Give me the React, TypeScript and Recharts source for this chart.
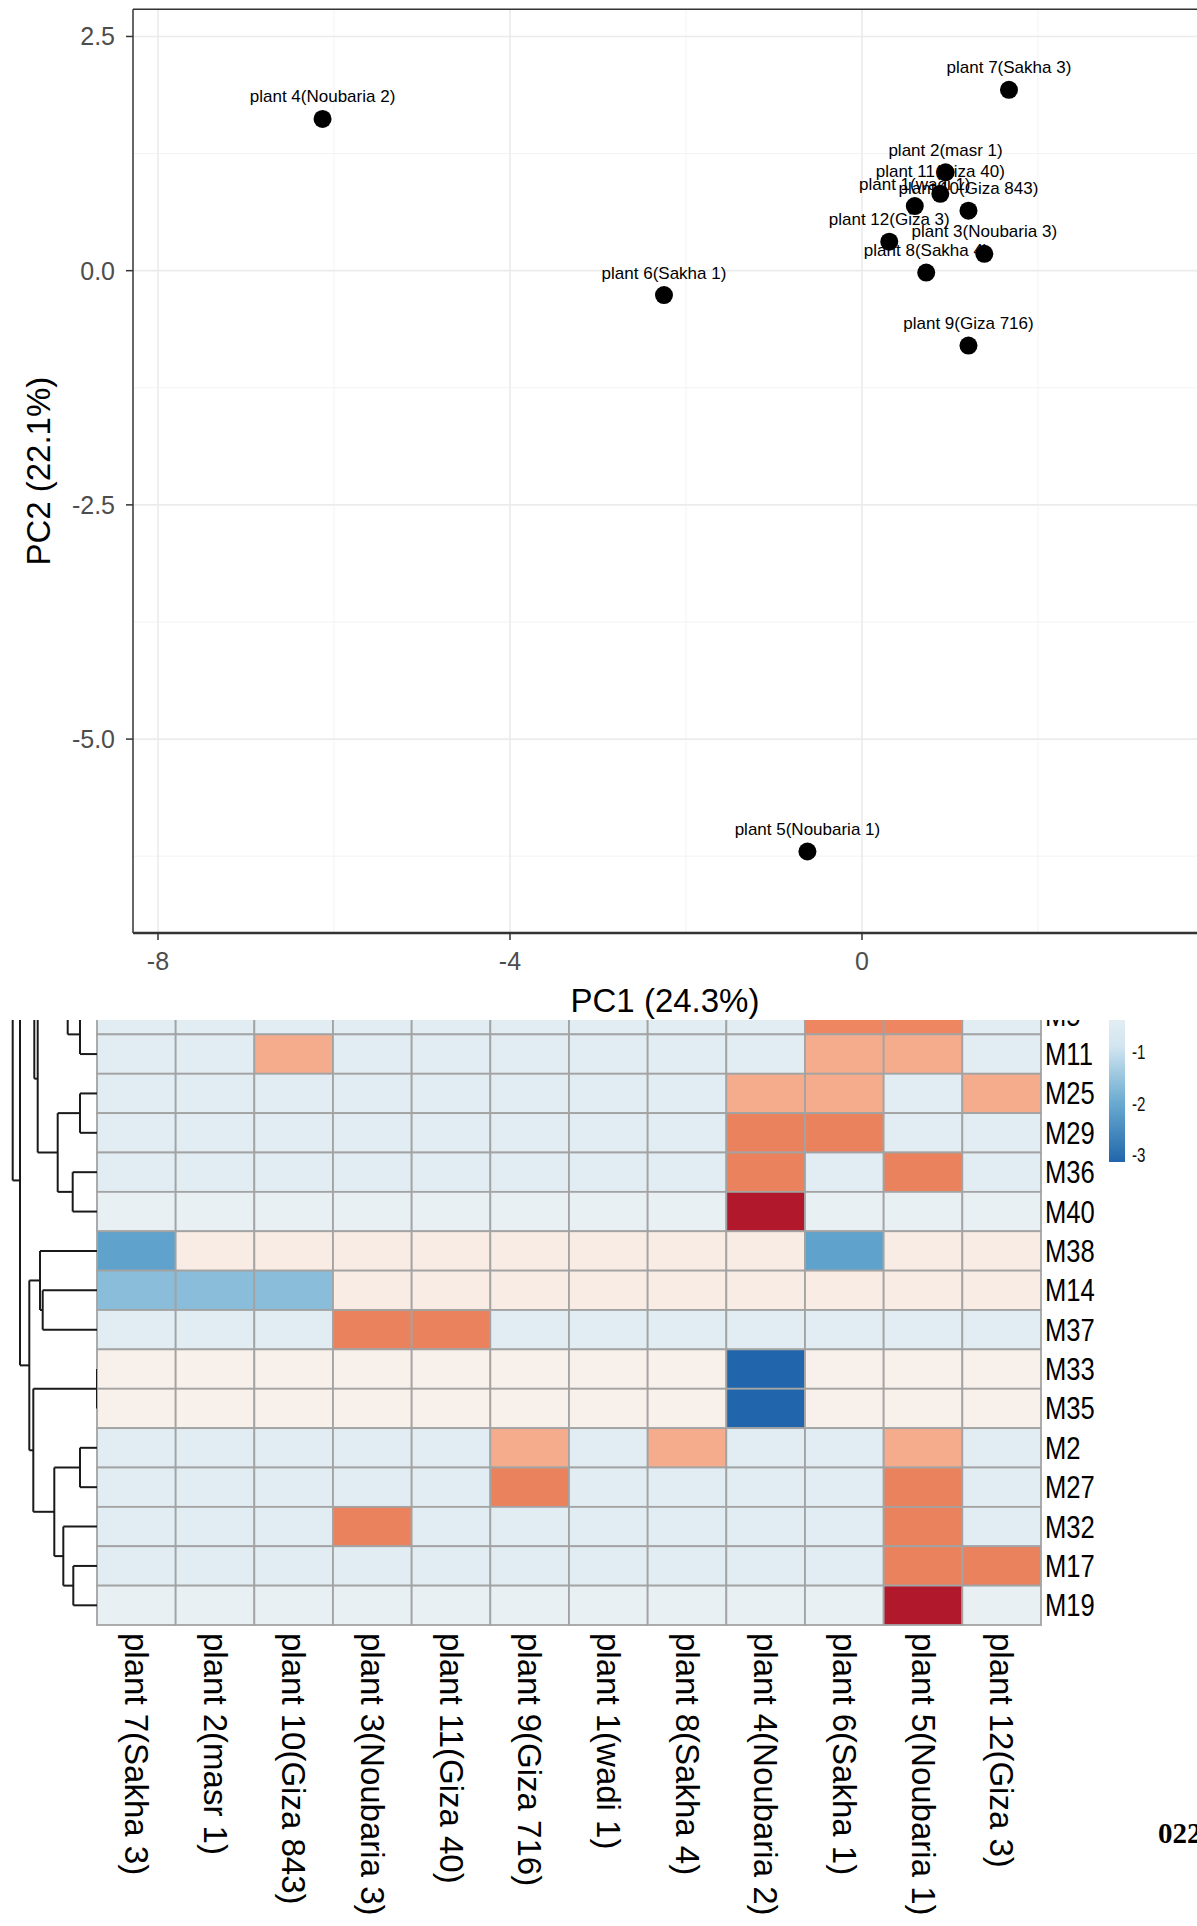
import React from "react";
import {
  ScatterChart,
  Scatter,
  XAxis,
  YAxis,
  CartesianGrid,
  ReferenceLine,
  BarChart,
  Bar,
} from "recharts";

// ---------------- PCA data ----------------
const plantNames = [
  "plant 1(wadi 1)",
  "plant 2(masr 1)",
  "plant 3(Noubaria 3)",
  "plant 4(Noubaria 2)",
  "plant 5(Noubaria 1)",
  "plant 6(Sakha 1)",
  "plant 7(Sakha 3)",
  "plant 8(Sakha 4)",
  "plant 9(Giza 716)",
  "plant 10(Giza 843)",
  "plant 11(Giza 40)",
  "plant 12(Giza 3)",
];
const pc1Values = [0.6, 0.95, 1.39, -6.13, -0.62, -2.25, 1.67, 0.73, 1.21, 1.21, 0.89, 0.31];
const pc2Values = [0.69, 1.05, 0.18, 1.62, -6.2, -0.26, 1.93, -0.02, -0.8, 0.64, 0.82, 0.31];

const pcaXDomain = [-8.284, 3.807];
const pcaYDomain = [-7.07, 2.79];
const pcaXTicks = [-8, -4, 0];
const pcaYTicks = [-5, -2.5, 0, 2.5];
const pcaXMinor = [-6, -2, 2];
const pcaYMinor = [-6.25, -3.75, -1.25, 1.25];
const pcaXTitle = "PC1 (24.3%)";
const pcaYTitle = "PC2 (22.1%)";

// ---------------- Heatmap data ----------------
const heatRows = ["M5", "M11", "M25", "M29", "M36", "M40", "M38", "M14", "M37", "M33", "M35", "M2", "M27", "M32", "M17", "M19"];
const heatCols = [
  "plant 7(Sakha 3)",
  "plant 2(masr 1)",
  "plant 10(Giza 843)",
  "plant 3(Noubaria 3)",
  "plant 11(Giza 40)",
  "plant 9(Giza 716)",
  "plant 1(wadi 1)",
  "plant 8(Sakha 4)",
  "plant 4(Noubaria 2)",
  "plant 6(Sakha 1)",
  "plant 5(Noubaria 1)",
  "plant 12(Giza 3)",
];
const heatValues = [
  [-0.42, -0.42, -0.42, -0.42, -0.42, -0.42, -0.42, -0.42, -0.42, 2.5, 2.5, -0.42],
  [-0.42, -0.42, 2.0, -0.42, -0.42, -0.42, -0.42, -0.42, -0.42, 2.0, 2.0, -0.42],
  [-0.42, -0.42, -0.42, -0.42, -0.42, -0.42, -0.42, -0.42, 2.0, 2.0, -0.42, 2.0],
  [-0.42, -0.42, -0.42, -0.42, -0.42, -0.42, -0.42, -0.42, 2.55, 2.55, -0.42, -0.42],
  [-0.42, -0.42, -0.42, -0.42, -0.42, -0.42, -0.42, -0.42, 2.55, -0.42, 2.55, -0.42],
  [-0.22, -0.22, -0.22, -0.22, -0.22, -0.22, -0.22, -0.22, 3.6, -0.22, -0.22, -0.22],
  [-2.15, 0.65, 0.65, 0.65, 0.65, 0.65, 0.65, 0.65, 0.65, -2.15, 0.65, 0.65],
  [-1.65, -1.65, -1.65, 0.65, 0.65, 0.65, 0.65, 0.65, 0.65, 0.65, 0.65, 0.65],
  [-0.42, -0.42, -0.42, 2.55, 2.55, -0.42, -0.42, -0.42, -0.42, -0.42, -0.42, -0.42],
  [0.5, 0.5, 0.5, 0.5, 0.5, 0.5, 0.5, 0.5, -3.15, 0.5, 0.5, 0.5],
  [0.5, 0.5, 0.5, 0.5, 0.5, 0.5, 0.5, 0.5, -3.15, 0.5, 0.5, 0.5],
  [-0.42, -0.42, -0.42, -0.42, -0.42, 2.0, -0.42, 2.0, -0.42, -0.42, 2.0, -0.42],
  [-0.42, -0.42, -0.42, -0.42, -0.42, 2.55, -0.42, -0.42, -0.42, -0.42, 2.55, -0.42],
  [-0.42, -0.42, -0.42, 2.55, -0.42, -0.42, -0.42, -0.42, -0.42, -0.42, 2.55, -0.42],
  [-0.42, -0.42, -0.42, -0.42, -0.42, -0.42, -0.42, -0.42, -0.42, -0.42, 2.55, 2.55],
  [-0.22, -0.22, -0.22, -0.22, -0.22, -0.22, -0.22, -0.22, -0.22, -0.22, 3.6, -0.22],
];
const heatMin = -3.15;
const heatMax = 3.6;
const legendTicks = [-3, -2, -1, 0, 1, 2, 3];
const rdBuPalette = ["#2166ac", "#67a9cf", "#d1e5f0", "#f7f7f7", "#fddbc7", "#ef8a62", "#b2182b"];

// Row dendrogram: merge heights; "off" = branch continuing above the visible rows
const dendroTree: any = {
  h: 84.3,
  a: { off: -6 },
  b: {
    h: 77,
    a: {
      h: 62.7,
      a: { off: -2.1 },
      b: {
        h: 59.3,
        a: { h: 29.3, a: { off: -0.5 }, b: { h: 17, a: "M5", b: "M11" } },
        b: { h: 39.3, a: { h: 17, a: "M25", b: "M29" }, b: { h: 24.3, a: "M36", b: "M40" } },
      },
    },
    b: {
      h: 67.7,
      a: { h: 57, a: "M38", b: { h: 54.3, a: "M14", b: "M37" } },
      b: {
        h: 63.7,
        a: { h: 0, a: "M33", b: "M35" },
        b: {
          h: 42.7,
          a: { h: 17, a: "M2", b: "M27" },
          b: { h: 33.7, a: "M32", b: { h: 23.7, a: "M17", b: "M19" } },
        },
      },
    },
  },
};

const bottomNote = "022";

// ---------------- helpers ----------------
function hexToRgb(h: string) {
  return [parseInt(h.slice(1, 3), 16), parseInt(h.slice(3, 5), 16), parseInt(h.slice(5, 7), 16)];
}
function heatColor(v: number) {
  const n = rdBuPalette.length - 1;
  let t = ((v - heatMin) / (heatMax - heatMin)) * n;
  t = Math.max(0, Math.min(n, t));
  const i = Math.min(n - 1, Math.floor(t));
  const f = t - i;
  const a = hexToRgb(rdBuPalette[i]);
  const b = hexToRgb(rdBuPalette[i + 1]);
  const c = a.map((x, k) => Math.round(x + (b[k] - x) * f));
  return `rgb(${c[0]},${c[1]},${c[2]})`;
}

const pcaData = plantNames.map((name, i) => ({ name, x: pc1Values[i], y: pc2Values[i] }));

const heatCells: any[] = [];
heatValues.forEach((row, ri) =>
  row.forEach((v, ci) => heatCells.push({ c: ci + 0.5, r: ri + 0.5, v, row: heatRows[ri], col: heatCols[ci] }))
);
const colTicks = heatCols.map((_, i) => i + 0.5);
const rowTicks = heatRows.map((_, i) => i + 0.5);

type Seg = { x1: number; y1: number; x2: number; y2: number };
const dendroSegs: Seg[] = [];
function layoutNode(node: any): { y: number; h: number } {
  if (typeof node === "string") return { y: heatRows.indexOf(node) + 0.5, h: 0 };
  if (node.off !== undefined) return { y: node.off, h: 0 };
  const A = layoutNode(node.a);
  const B = layoutNode(node.b);
  dendroSegs.push({ x1: node.h, y1: A.y, x2: node.h, y2: B.y });
  dendroSegs.push({ x1: A.h, y1: A.y, x2: node.h, y2: A.y });
  dendroSegs.push({ x1: B.h, y1: B.y, x2: node.h, y2: B.y });
  return { y: (A.y + B.y) / 2, h: node.h };
}
layoutNode(dendroTree);
const leafPoints = heatRows.map((name, i) => ({ h: 0, y: i + 0.5, name }));

const legendData = [{ k: "scale", range: [heatMin, heatMax] }];

// ---------------- geometry ----------------
const W = 1197;
const PCA_H = 1020;
const HEAT_TOP = 995;
const HEAT_LEFT = 97;
const HEAT_RIGHT = 1041;
const HEAT_BOTTOM = 1625;
const cellW = (HEAT_RIGHT - HEAT_LEFT) / heatCols.length;
const cellH = (HEAT_BOTTOM - HEAT_TOP) / heatRows.length;

const LabelShape = (p: any) => (
  <text x={p.cx} y={p.cy - 22} textAnchor="middle" dominantBaseline="central" fontSize={17} fill="#000">
    {p.payload.name}
  </text>
);
const DotShape = (p: any) => <circle cx={p.cx} cy={p.cy} r={9} fill="#000" />;

const CellShape = (p: any) => (
  <rect
    x={p.cx - cellW / 2}
    y={p.cy - cellH / 2}
    width={cellW}
    height={cellH}
    fill={heatColor(p.payload.v)}
    stroke="#a3a3a3"
    strokeWidth={1.8}
  />
);

const RowTick = (p: any) => {
  const idx = Math.floor(p.payload.value);
  return (
    <text
      transform={`translate(${p.x},${p.y}) scale(0.8,1)`}
      textAnchor="start"
      dominantBaseline="central"
      fontSize={32}
      fill="#000"
    >
      {heatRows[idx]}
    </text>
  );
};
const ColTick = (p: any) => {
  const idx = Math.floor(p.payload.value);
  return (
    <text
      transform={`translate(${p.x},${p.y}) rotate(90)`}
      textAnchor="start"
      dominantBaseline="central"
      fontSize={33}
      fill="#000"
    >
      {heatCols[idx]}
    </text>
  );
};
const LegendTick = (p: any) => (
  <text
    transform={`translate(${p.x},${p.y}) scale(0.72,1)`}
    textAnchor="start"
    dominantBaseline="central"
    fontSize={21}
    fill="#111"
  >
    {String(p.payload.value)}
  </text>
);

export default function App() {
  return (
    <div
      style={{
        position: "absolute",
        left: 0,
        top: 0,
        width: W,
        height: 1926,
        overflow: "hidden",
        background: "#fff",
        fontFamily: "'Liberation Sans', Arial, Helvetica, sans-serif",
      }}
    >
      {/* PCA biplot (overlays the top of the heatmap) */}
      <div style={{ position: "absolute", left: 0, top: 0, width: W, height: PCA_H, background: "#fff", zIndex: 10, overflow: "hidden" }}>
        <ScatterChart width={W} height={PCA_H} margin={{ top: 9.3, right: 0, bottom: 0, left: 0 }}>
          <CartesianGrid horizontalValues={pcaYMinor} verticalValues={pcaXMinor} stroke="#f3f3f3" strokeWidth={1} />
          <CartesianGrid horizontalValues={pcaYTicks} verticalValues={pcaXTicks} stroke="#ebebeb" strokeWidth={1.6} />
          <XAxis
            type="number"
            dataKey="x"
            domain={pcaXDomain}
            allowDataOverflow
            ticks={pcaXTicks}
            interval={0}
            height={87}
            tickSize={7}
            tickMargin={12}
            tickFormatter={(v: number) => String(v)}
            tick={{ fontSize: 25, fill: "#4d4d4d" }}
            axisLine={{ stroke: "#333", strokeWidth: 2.5 }}
            tickLine={{ stroke: "#333", strokeWidth: 1.5 }}
            label={{ value: pcaXTitle, position: "insideBottom", offset: 8, fontSize: 33, fill: "#000" }}
          />
          <YAxis
            type="number"
            dataKey="y"
            domain={pcaYDomain}
            allowDataOverflow
            ticks={pcaYTicks}
            interval={0}
            width={133}
            tickSize={7}
            tickMargin={11}
            tickFormatter={(v: number) => v.toFixed(1)}
            tick={{ fontSize: 25, fill: "#4d4d4d" }}
            axisLine={{ stroke: "#333", strokeWidth: 1.5 }}
            tickLine={{ stroke: "#333", strokeWidth: 1.5 }}
            label={{
              value: pcaYTitle,
              angle: -90,
              position: "insideLeft",
              offset: 38,
              fontSize: 33,
              fill: "#000",
              style: { textAnchor: "middle" },
            }}
          />
          <ReferenceLine y={pcaYDomain[1]} stroke="#333" strokeWidth={1.5} ifOverflow="visible" />
          <Scatter data={pcaData} shape={LabelShape} isAnimationActive={false} />
          <Scatter data={pcaData} shape={DotShape} isAnimationActive={false} />
        </ScatterChart>
      </div>

      {/* Row dendrogram */}
      <div style={{ position: "absolute", left: 0, top: HEAT_TOP, zIndex: 2 }}>
        <ScatterChart width={HEAT_LEFT} height={HEAT_BOTTOM - HEAT_TOP} margin={{ top: 0, right: 0, bottom: 0, left: 0 }}>
          <XAxis type="number" dataKey="h" domain={[0, HEAT_LEFT]} reversed hide allowDataOverflow />
          <YAxis type="number" dataKey="y" domain={[0, heatRows.length]} reversed hide allowDataOverflow />
          <Scatter data={leafPoints} shape={() => <g />} isAnimationActive={false} />
          {dendroSegs.map((s, i) => (
            <ReferenceLine
              key={i}
              segment={[
                { x: s.x1, y: s.y1 },
                { x: s.x2, y: s.y2 },
              ]}
              stroke="#1a1a1a"
              strokeWidth={2}
              ifOverflow="visible"
            />
          ))}
        </ScatterChart>
      </div>

      {/* Heatmap */}
      <div style={{ position: "absolute", left: 0, top: HEAT_TOP, zIndex: 1 }}>
        <ScatterChart width={W} height={1926 - HEAT_TOP} margin={{ top: 0, right: 0, bottom: 0, left: HEAT_LEFT }}>
          <XAxis
            type="number"
            dataKey="c"
            domain={[0, heatCols.length]}
            ticks={colTicks}
            interval={0}
            height={1926 - HEAT_BOTTOM}
            tickSize={0}
            tickMargin={8}
            axisLine={false}
            tickLine={false}
            tick={ColTick}
          />
          <YAxis
            type="number"
            dataKey="r"
            domain={[0, heatRows.length]}
            reversed
            orientation="right"
            ticks={rowTicks}
            interval={0}
            width={W - HEAT_RIGHT}
            tickSize={0}
            tickMargin={4}
            axisLine={false}
            tickLine={false}
            tick={RowTick}
          />
          <Scatter data={heatCells} shape={CellShape} isAnimationActive={false} />
        </ScatterChart>
      </div>

      {/* Colour legend */}
      <div style={{ position: "absolute", left: 1109, top: 816, zIndex: 1 }}>
        <BarChart width={88} height={372} data={legendData} margin={{ top: 0, right: 0, bottom: 26, left: 0 }} barCategoryGap={0}>
          <defs>
            <linearGradient id="legendGrad" x1="0" y1="1" x2="0" y2="0">
              {rdBuPalette.map((c, i) => (
                <stop key={i} offset={`${(i / (rdBuPalette.length - 1)) * 100}%`} stopColor={c} />
              ))}
            </linearGradient>
          </defs>
          <XAxis dataKey="k" hide />
          <YAxis
            type="number"
            orientation="right"
            domain={[heatMin, heatMax]}
            allowDataOverflow
            ticks={legendTicks}
            interval={0}
            width={72}
            tickSize={0}
            tickMargin={7}
            axisLine={false}
            tickLine={false}
            tick={LegendTick}
          />
          <Bar dataKey="range" fill="url(#legendGrad)" isAnimationActive={false} />
        </BarChart>
      </div>

      {/* page fragment */}
      <svg style={{ position: "absolute", left: 1150, top: 1810, zIndex: 3 }} width={47} height={45}>
        <text x={8} y={33} fontSize={29} fontWeight="bold" fontFamily="'Liberation Serif', 'Times New Roman', serif" fill="#000">
          {bottomNote}
        </text>
      </svg>
    </div>
  );
}
